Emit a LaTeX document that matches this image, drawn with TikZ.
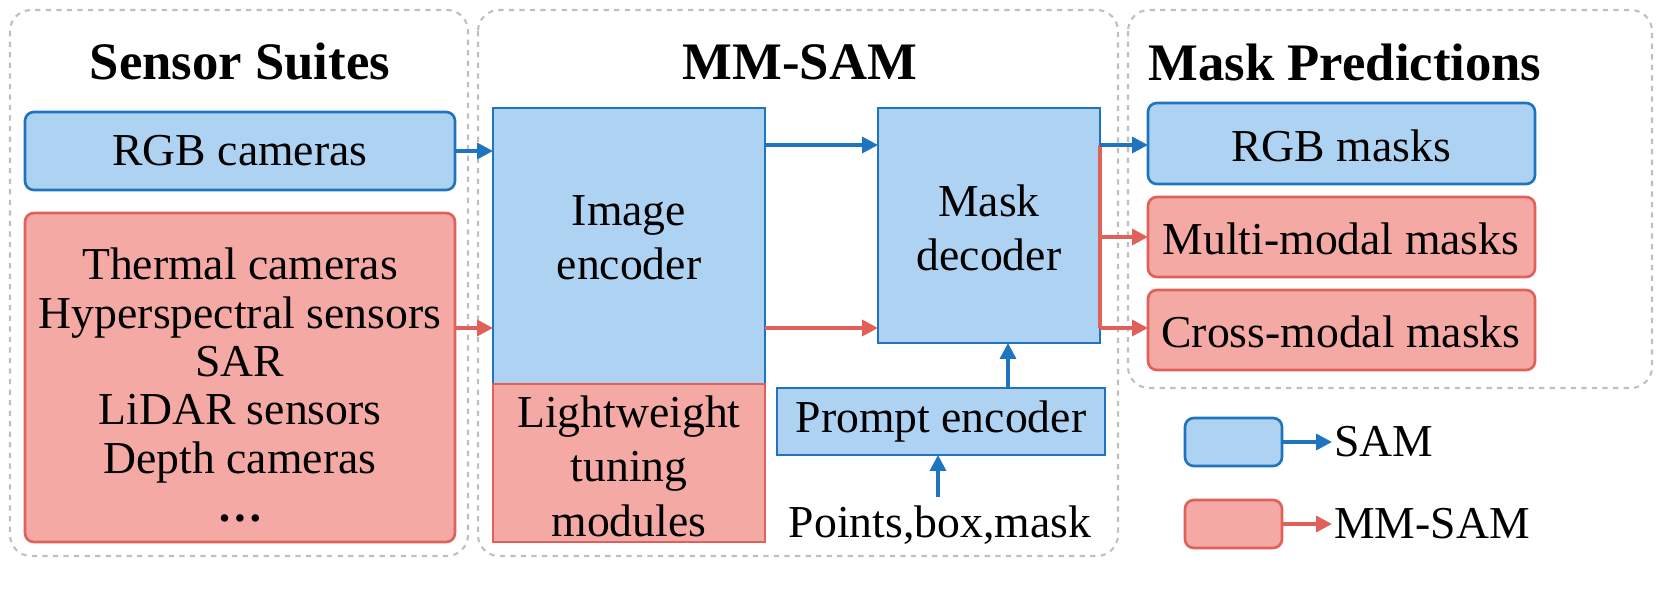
\documentclass[tikz,border=0pt]{standalone}
\usepackage{fontspec}
\setmainfont{Liberation Serif}
\usetikzlibrary{arrows.meta}
\definecolor{bfill}{HTML}{AED2F2}\definecolor{bdraw}{HTML}{1F74C0}
\definecolor{rfill}{HTML}{F5A9A5}\definecolor{rdraw}{HTML}{E0605A}
\begin{document}
\begin{tikzpicture}[x=0.02cm,y=-0.02cm,
 grp/.style={draw=gray!50,dashed,line width=1.2pt,rounded corners=12pt},
 bb/.style={draw=bdraw,fill=bfill,line width=1.5pt,rounded corners=5pt},
 rb/.style={draw=rdraw,fill=rfill,line width=1.5pt,rounded corners=5pt},
 bsq/.style={draw=bdraw,fill=bfill,line width=1.5pt},
 rsq/.style={draw=rdraw,fill=rfill,line width=1.5pt},
 ba/.style={draw=bdraw,line width=2pt,-{Triangle[length=9pt,width=9pt]}},
 ra/.style={draw=rdraw,line width=2pt,-{Triangle[length=9pt,width=9pt]}},
 t/.style={font=\fontsize{26}{31}\selectfont,align=center,inner sep=0pt},
 ti/.style={font=\fontsize{30}{34}\selectfont\bfseries,inner sep=0pt}]
\useasboundingbox (0,0) rectangle (1661,606);
\clip (0,0) rectangle (1661,606);
\draw[grp] (10,10) rectangle (468,556);
\draw[grp] (478,10) rectangle (1118,556);
\draw[grp] (1128,10) rectangle (1652,388);
\node[ti] (t1) at (240,62) {Sensor Suites};
\node[ti] (t2) at (800,62) {MM-SAM};
\node[ti] (t3) at (1345,62) {Mask Predictions};
\draw[bb] (25,112) rectangle (455,190);
\node[t] (rgb) at (240,151) {RGB cameras};
\draw[rb] (25,213) rectangle (455,542);
\node[t,font=\fontsize{26}{27.5}\selectfont] (sens) at (240,385) {Thermal cameras\\Hyperspectral sensors\\SAR\\LiDAR sensors\\Depth cameras\\\textbf{…}};
\draw[bsq] (493,108) rectangle (765,384);
\node[t] (ie) at (629,238) {Image\\encoder};
\draw[rsq] (493,384) rectangle (765,542);
\node[t] (lw) at (629,466) {Lightweight\\tuning\\modules};
\draw[bsq] (878,108) rectangle (1100,343);
\node[t] (md) at (989,228) {Mask\\decoder};
\draw[bsq] (777,388) rectangle (1105,455);
\node[t] (pe) at (941,422) {Prompt encoder};
\node[t] (pts) at (940,525) {Points,box,mask};
\draw[bb] (1148,103) rectangle (1535,184);
\node[t] (m1) at (1341,146) {RGB masks};
\draw[rb] (1148,197) rectangle (1535,277);
\node[t] (m2) at (1341,239) {Multi-modal masks};
\draw[rb] (1148,290) rectangle (1535,370);
\node[t] (m3) at (1341,332) {Cross-modal masks};
\coordinate (a1) at (455,151); \coordinate (a2) at (493,151);
\draw[ba] (a1) -- (a2);
\coordinate (b1) at (455,328); \coordinate (b2) at (493,328);
\draw[ra] (b1) -- (b2);
\coordinate (c1) at (765,145); \coordinate (c2) at (878,145);
\draw[ba] (c1) -- (c2);
\coordinate (d1) at (765,328); \coordinate (d2) at (878,328);
\draw[ra] (d1) -- (d2);
\coordinate (e1) at (1100,328); \coordinate (e2) at (1148,328);
\coordinate (f1) at (1100,145); \coordinate (f2) at (1100,237); \coordinate (f3) at (1148,237);
\draw[rdraw,line width=2pt] (f1) -- (e1);
\draw[ra] (e1) -- (e2);
\draw[ra] (f2) -- (f3);
\coordinate (g1) at (1100,145); \coordinate (g2) at (1148,145);
\draw[ba] (g1) -- (g2);
\coordinate (h1) at (1008,388); \coordinate (h2) at (1008,343);
\draw[ba] (h1) -- (h2);
\coordinate (i1) at (938,497); \coordinate (i2) at (938,455);
\draw[ba] (i1) -- (i2);
\draw[bb] (1185,418) rectangle (1282,466);
\coordinate (j1) at (1282,442); \coordinate (j2) at (1332,442);
\draw[ba] (j1) -- (j2);
\node[t,anchor=west] (l1) at (1334,442) {SAM};
\draw[rb] (1185,500) rectangle (1282,548);
\coordinate (k1) at (1282,524); \coordinate (k2) at (1332,524);
\draw[ra] (k1) -- (k2);
\node[t,anchor=west] (l2) at (1334,524) {MM-SAM};
\end{tikzpicture}
\end{document}
